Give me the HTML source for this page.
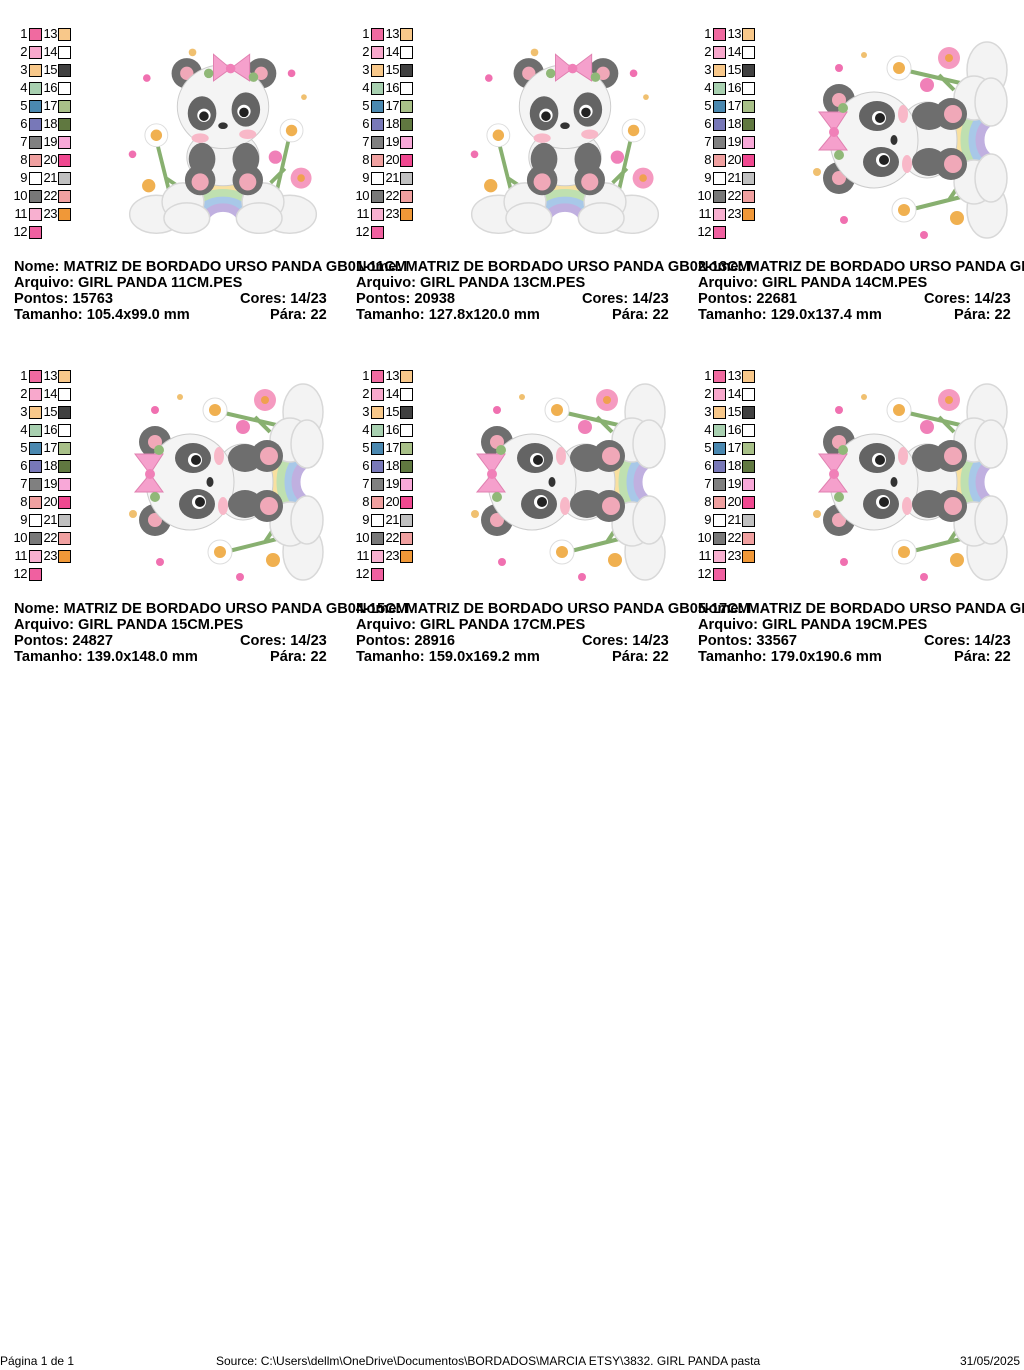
<!DOCTYPE html>
<html><head><meta charset="utf-8">
<style>
html,body{margin:0;padding:0;background:#fff;}
body{width:1024px;height:1370px;position:relative;overflow:hidden;font-family:"Liberation Sans",Arial,sans-serif;}
#root{position:absolute;left:0;top:0;width:1024px;height:700px;overflow:hidden;}
.blk{position:absolute;width:342px;height:342px;}
.n{position:absolute;font-size:13px;color:#000;text-align:right;width:20px;line-height:14px;letter-spacing:-0.5px;}
.sq{position:absolute;width:11px;height:11px;border:1px solid #000;}
.t{position:absolute;font-size:14.6px;font-weight:bold;white-space:nowrap;color:#000;line-height:16px;}
.img{position:absolute;}
.foot{position:absolute;top:1354px;font-size:12px;color:#000;}
</style></head><body>
<svg width="0" height="0" style="position:absolute">
<defs>
<g id="panda">
  <circle cx="20" cy="35" r="4" fill="#f070b0"/><circle cx="172" cy="30" r="4" fill="#f070b0"/>
  <circle cx="68" cy="8" r="4" fill="#f0c070"/><circle cx="185" cy="55" r="3" fill="#f0c070"/>
  <circle cx="5" cy="115" r="4" fill="#f070b0"/>
  <path d="M30 100 L45 160 M170 95 L155 160 M40 140 L55 150 M165 130 L150 145" stroke="#88b070" stroke-width="4" fill="none"/>
  <circle cx="30" cy="95" r="12" fill="#fff" stroke="#ddd"/><circle cx="30" cy="95" r="6" fill="#f0b050"/>
  <circle cx="172" cy="90" r="12" fill="#fff" stroke="#ddd"/><circle cx="172" cy="90" r="6" fill="#f0b050"/>
  <circle cx="182" cy="140" r="11" fill="#f59ac0"/><circle cx="182" cy="140" r="4" fill="#f0a050"/>
  <circle cx="22" cy="148" r="7" fill="#f0b050"/><circle cx="155" cy="118" r="7" fill="#f080b8"/>
  <path d="M45 185 A55 45 0 0 1 155 185" stroke="#f8b8d0" stroke-width="9" fill="none"/>
  <path d="M54 185 A46 37 0 0 1 146 185" stroke="#f8e0a0" stroke-width="9" fill="none"/>
  <path d="M63 185 A37 29 0 0 1 137 185" stroke="#bfe0b0" stroke-width="9" fill="none"/>
  <path d="M72 185 A28 21 0 0 1 128 185" stroke="#a8c8e8" stroke-width="9" fill="none"/>
  <path d="M81 185 A19 14 0 0 1 119 185" stroke="#c0b0e0" stroke-width="9" fill="none"/>
  <g fill="#f3f3f3" stroke="#d8d8d8" stroke-width="1.5">
   <ellipse cx="30" cy="178" rx="28" ry="20"/><ellipse cx="58" cy="165" rx="22" ry="20"/><ellipse cx="62" cy="182" rx="24" ry="16"/>
   <ellipse cx="170" cy="178" rx="28" ry="20"/><ellipse cx="142" cy="165" rx="22" ry="20"/><ellipse cx="138" cy="182" rx="24" ry="16"/>
  </g>
  <ellipse cx="100" cy="118" rx="38" ry="30" fill="#f3f3f3" stroke="#ccc"/>
  <circle cx="62" cy="30" r="16" fill="#6e6e6e"/><circle cx="62" cy="30" r="7" fill="#f0a8b8"/>
  <circle cx="140" cy="30" r="16" fill="#6e6e6e"/><circle cx="140" cy="30" r="7" fill="#f0a8b8"/>
  <ellipse cx="100" cy="65" rx="48" ry="44" fill="#f4f4f4" stroke="#ccc"/>
  <ellipse cx="78" cy="72" rx="15" ry="18" fill="#646464"/><circle cx="80" cy="74" r="7" fill="#fff"/><circle cx="80" cy="75" r="5" fill="#222"/>
  <ellipse cx="124" cy="68" rx="15" ry="18" fill="#646464"/><circle cx="122" cy="70" r="7" fill="#fff"/><circle cx="122" cy="71" r="5" fill="#222"/>
  <ellipse cx="100" cy="85" rx="5" ry="3.5" fill="#333"/>
  <ellipse cx="76" cy="98" rx="9" ry="5" fill="#f8b8c8"/><ellipse cx="126" cy="94" rx="9" ry="5" fill="#f8b8c8"/>
  <ellipse cx="78" cy="120" rx="14" ry="17" fill="#6e6e6e"/><ellipse cx="124" cy="120" rx="14" ry="17" fill="#6e6e6e"/>
  <circle cx="76" cy="142" r="16" fill="#6e6e6e"/><circle cx="76" cy="144" r="9" fill="#f0a8b8"/>
  <circle cx="126" cy="142" r="16" fill="#6e6e6e"/><circle cx="126" cy="144" r="9" fill="#f0a8b8"/>
  <path d="M108 25 L90 10 L90 38 Z M108 25 L128 10 L128 38 Z" fill="#f5a0cc" stroke="#e080b0"/>
  <circle cx="108" cy="25" r="5" fill="#f080b8"/>
  <circle cx="85" cy="30" r="5" fill="#90b878"/><circle cx="132" cy="34" r="5" fill="#90b878"/>
</g>
</defs></svg>
<div id="root"></div>
<div class="foot" style="left:0">Página 1 de 1</div>
<div class="foot" style="left:216px">Source: C:\Users\dellm\OneDrive\Documentos\BORDADOS\MARCIA ETSY\3832. GIRL PANDA pasta</div>
<div class="foot" style="left:960px">31/05/2025</div>
<script>
var c1=["#f06aa0","#f8a8cc","#f8c88a","#a8d0b0","#4a88b0","#7878b8","#808080","#f0a0a0","#ffffff","#787878","#f8b0d0","#f060a0"];
var c2=["#f8c88a","#ffffff","#404040","#ffffff","#a8c088","#607840","#f8a8d8","#f04890","#c0c0c0","#f0a0a0","#f09838"];
var data=[
["GIRL PANDA 11CM.PES","15763","105.4x99.0 mm",0],
["GIRL PANDA 13CM.PES","20938","127.8x120.0 mm",0],
["GIRL PANDA 14CM.PES","22681","129.0x137.4 mm",1],
["GIRL PANDA 15CM.PES","24827","139.0x148.0 mm",1],
["GIRL PANDA 17CM.PES","28916","159.0x169.2 mm",1],
["GIRL PANDA 19CM.PES","33567","179.0x190.6 mm",1]];
var h="";
data.forEach(function(d,i){
 var x=[0,342,684][i%3], y=Math.floor(i/3)*342;
 h+='<div class="blk" style="left:'+x+'px;top:'+y+'px">';
 for(var k=0;k<12;k++){
  var yy=28+18*k;
  h+='<div class="n" style="left:7px;top:'+(yy-1)+'px">'+(k+1)+'</div><div class="sq" style="left:29px;top:'+yy+'px;background:'+c1[k]+'"></div>';
  if(k<11)h+='<div class="n" style="left:37px;top:'+(yy-1)+'px">'+(k+13)+'</div><div class="sq" style="left:58px;top:'+yy+'px;background:'+c2[k]+'"></div>';
 }
 var tr=d[3]?'transform="translate(0,200) rotate(-90)"':'';
 var box=d[3]?'style="left:120px;top:35px;width:210px;height:210px"':'style="left:118px;top:40px;width:210px;height:200px"';
 h+='<svg class="img" '+box+' viewBox="-5 -5 210 210"><g '+tr+'><use href="#panda"/></g></svg>';
 h+='<div class="t" style="left:14px;top:259px">Nome: MATRIZ DE BORDADO URSO PANDA GB0'+(i+1)+'-'+d[0].slice(11,15)+'</div>';
 h+='<div class="t" style="left:14px;top:275px">Arquivo: '+d[0]+'</div>';
 h+='<div class="t" style="left:14px;top:291px">Pontos: '+d[1]+'</div>';
 h+='<div class="t" style="left:240px;top:291px">Cores: 14/23</div>';
 h+='<div class="t" style="left:14px;top:307px">Tamanho: '+d[2]+'</div>';
 h+='<div class="t" style="left:270px;top:307px">Pára: 22</div>';
 h+='</div>';
});
document.getElementById('root').innerHTML=h;
</script>
</body></html>
